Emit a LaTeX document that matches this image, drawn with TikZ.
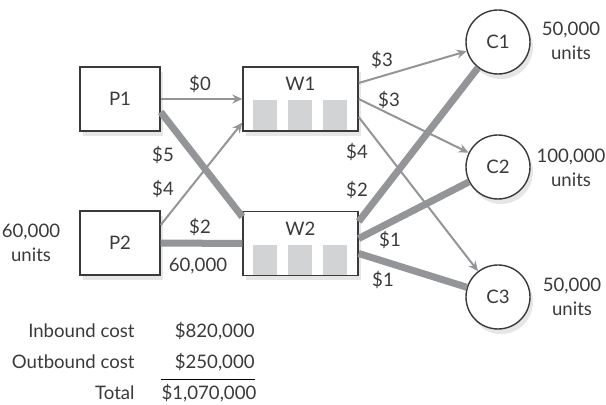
\documentclass[tikz,border=0pt]{standalone}
\usepackage{fontspec}
\setmainfont{Lato}
\usepackage{tikz}
\usetikzlibrary{matrix,shadows,arrows.meta}
\definecolor{flowgray}{HTML}{939598}
\definecolor{bargray}{HTML}{D1D3D4}
\definecolor{inkgray}{HTML}{3A3A3A}

\begin{document}
\begin{tikzpicture}[x=0.5pt,y=-0.5pt,
		font=\fontsize{9.3}{12}\selectfont, text=inkgray,
		boxshadow/.style={drop shadow={opacity=0.2,shadow xshift=1.5pt,shadow yshift=-2.5pt}},
		plant/.style={rectangle,draw=inkgray,line width=0.7pt,fill=white,minimum width=40pt,minimum height=32pt,boxshadow},
		whouse/.style={plant,minimum width=57.5pt},
		cust/.style={circle,draw=inkgray,line width=0.7pt,fill=white,minimum size=32pt,inner sep=0pt,boxshadow},
		noflow/.style={draw=flowgray,line width=1pt,-{Stealth[length=5pt,width=4.5pt]}},
		flow/.style={draw=flowgray,line width=3.5pt},
		cost/.style={inner sep=1pt},
		demand/.style={align=center,inner sep=1pt}
		]
		\useasboundingbox (0,0) rectangle (606,405);

		% plants, warehouses, customers
		\node[plant] (P1) at (120,99) {P1};
		\node[plant] (P2) at (120,243) {P2};
		\node[whouse,label={[anchor=center,yshift=-9pt]north:W1}] (W1) at (300.5,99) {};
		\node[whouse,label={[anchor=center,yshift=-9pt]north:W2}] (W2) at (300.5,243.5) {};
		\node[cust] (C1) at (498,42) {C1};
		\node[cust] (C2) at (498,167) {C2};
		\node[cust] (C3) at (498,297) {C3};

		\foreach \w in {W1,W2}
			\foreach \i in {0,1,2}
				\fill[bargray] ([xshift=5.5pt+17.5pt*\i,yshift=0.7pt]\w.south west) rectangle ++(12pt,15pt);

		% inbound
		\draw[noflow] (P1.east) -- (W1.west);
		\draw[flow] ([yshift=-6.5pt]P1.east) -- ([yshift=-3pt]W2.north west);
		\draw[noflow] ([yshift=9pt]P2.east) -- ([yshift=4.5pt]W1.south west);
		\draw[flow] (P2.east) -- (W2.west);

		% outbound
		\draw[noflow] ([yshift=8pt]W1.east) -- (C1);
		\draw[noflow] (W1.east) -- (C2);
		\draw[noflow] ([yshift=-9pt]W1.east) -- (C3);
		\draw[flow] ([yshift=11pt]W2.east) -- (C1);
		\draw[flow] ([yshift=2.5pt]W2.east) -- (C2);
		\draw[flow] ([yshift=-5pt]W2.east) -- (C3);

		\node[cost] (c11) at (200,84) {\$0};
		\node[cost] (c12) at (163,155) {\$5};
		\node[cost] (c21) at (163,189) {\$4};
		\node[cost] (c22) at (200,227) {\$2};
		\node[cost] (q22) at (198,266) {60,000};
		\node[cost] (o11) at (382,60) {\$3};
		\node[cost] (o12) at (389,100) {\$3};
		\node[cost] (o13) at (357,152) {\$4};
		\node[cost] (o21) at (357,190) {\$2};
		\node[cost] (o22) at (390,240) {\$1};
		\node[cost] (o23) at (383,280) {\$1};

		\node[demand] (d1) at (571,41) {50,000\\units};
		\node[demand] (d2) at (571,168) {100,000\\units};
		\node[demand] (d3) at (572,297) {50,000\\units};
		\node[demand] (s2) at (31,243) {60,000\\units};

		\matrix (tbl) [matrix of nodes,anchor=north east,inner sep=0pt,row sep=6.5pt,column sep=13.5pt,
		nodes={inner sep=0pt,text height=7pt,text depth=2pt},
		column 1/.style={nodes={anchor=base east}},
		column 2/.style={nodes={anchor=base east,text width=46.5pt,align=right}},
		] at (255,323)
		{
		Inbound cost & \$820,000\\
		Outbound cost & \$250,000\\
		Total & \$1,070,000\\
		};
		\draw[black,line width=0.7pt] ([yshift=-3.5pt]tbl-2-2.south west) -- ([yshift=-3.5pt]tbl-2-2.south east);
	\end{tikzpicture}
\end{document}
